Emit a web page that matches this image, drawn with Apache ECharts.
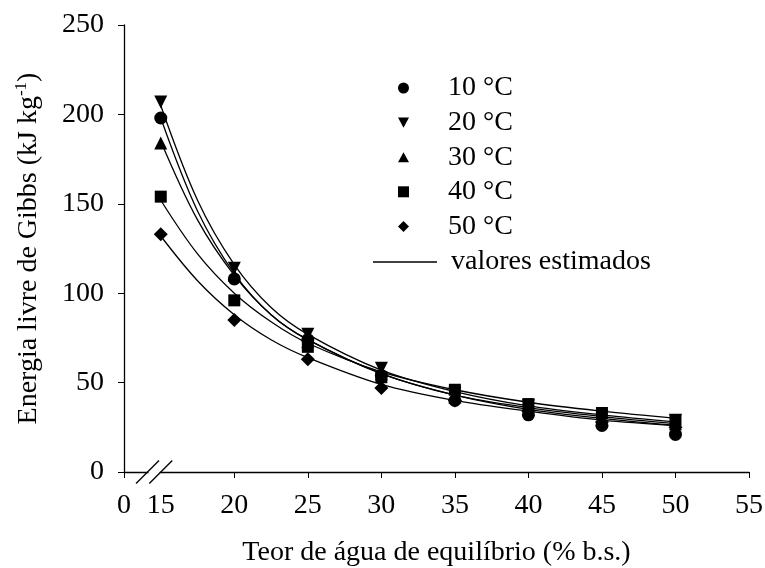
<!DOCTYPE html>
<html>
<head>
<meta charset="utf-8">
<script src="https://cdn.jsdelivr.net/npm/echarts@6/dist/echarts.min.js"></script>
<style>
  html, body { margin: 0; padding: 0; background: #fff; }
  #chart { width: 765px; height: 568px; }
</style>
</head>
<body>
<div id="chart"></div>
<script>
// moisture content (% b.s.)
const xs = [15, 20, 25, 30, 35, 40, 45, 50];
// observed values, kJ/kg
const obs10 = [198, 108, 74, 54, 40, 32, 26, 21];
const obs20 = [207, 114, 77, 58, 44, 37, 31, 29];
const obs30 = [184, 110, 73, 55, 42, 35, 29, 27];
const obs40 = [154, 96, 70, 53, 46, 38, 33, 29];
const obs50 = [133, 85, 63, 47, 40, 34, 28, 25];

// fitted curves
const fitX = [15, 17.5, 20, 22.5, 25, 30, 35, 40, 45, 50];
const fit10 = [198, 146, 111, 88, 74, 55, 43, 35, 30, 26];
const fit20 = [205, 152, 116, 92, 77, 57, 45, 37, 32, 28];
const fit30 = [185, 141, 110, 88, 74, 55, 43, 36, 31, 27];
const fit40 = [152, 122, 100, 84, 72, 56, 46, 39, 34, 30];
const fit50 = [132, 107, 88, 74, 64, 49, 40, 34, 29, 26];

const xLabelValues = [12.5, 15, 20, 25, 30, 35, 40, 45, 50, 55];
const xTickValues = [12.5, 20, 25, 30, 35, 40, 45, 50, 55];

const FONT = 'Liberation Serif';
const FS = 28;
const pair = (x, y) => x.map((v, i) => [v, y[i]]);

const chart = echarts.init(document.getElementById('chart'));

const obsSeries = [
  { name: '10 °C', data: obs10, symbol: 'circle', size: 13 },
  { name: '20 °C', data: obs20, symbol: 'path://M0,0 L12,0 L6,11 Z', size: 13 },
  { name: '30 °C', data: obs30, symbol: 'path://M6,0 L12,11 L0,11 Z', size: 13 },
  { name: '40 °C', data: obs40, symbol: 'rect', size: 12 },
  { name: '50 °C', data: obs50, symbol: 'diamond', size: 14 }
].map(s => ({
  type: 'scatter',
  name: s.name,
  data: pair(xs, s.data),
  symbol: s.symbol,
  symbolSize: s.size,
  itemStyle: { color: '#000', opacity: 1 },
  z: 3
}));

const fitSeries = [fit10, fit20, fit30, fit40, fit50].map((d, i) => ({
  type: 'line',
  name: i === 0 ? 'valores estimados' : 'fit' + i,
  data: pair(fitX, d),
  smooth: 0.35,
  symbol: 'none',
  lineStyle: { color: '#000', width: 1.3 },
  itemStyle: { color: '#000' },
  z: 2
}));

chart.setOption({
  animation: false,
  backgroundColor: '#fff',
  textStyle: { fontFamily: FONT, color: '#000' },
  grid: { left: 124, right: 16, top: 25, bottom: 96, containLabel: false, outerBoundsMode: 'none' },
  legend: [
    {
      data: ['10 °C', '20 °C', '30 °C', '40 °C', '50 °C'],
      orient: 'vertical',
      left: 393,
      top: 69,
      itemWidth: 11,
      itemHeight: 11,
      itemGap: 6.6,
      selectedMode: false,
      textStyle: { fontFamily: FONT, fontSize: FS, color: '#000', padding: [0, 0, 0, 34] }
    },
    {
      data: [{ name: 'valores estimados', icon: 'path://M0,0 L64,0 L64,1.4 L0,1.4 Z' }],
      left: 368,
      top: 243,
      itemWidth: 64,
      itemHeight: 1.4,
      selectedMode: false,
      textStyle: { fontFamily: FONT, fontSize: FS, color: '#000', padding: [0, 0, 0, 9] }
    }
  ],
  xAxis: {
    type: 'value',
    min: 12.5,
    max: 55,
    name: 'Teor de água de equilíbrio (% b.s.)',
    nameLocation: 'middle',
    nameGap: 67,
    nameTextStyle: { fontFamily: FONT, fontSize: FS, color: '#000' },
    axisLine: { lineStyle: { color: '#000', width: 1.3 } },
    axisTick: { show: true, length: 6, lineStyle: { color: '#000' }, customValues: xTickValues },
    axisLabel: {
      fontFamily: FONT, fontSize: FS, color: '#000', margin: 20,
      customValues: xLabelValues,
      formatter: v => (v === 12.5 ? '0' : String(v))
    },
    splitLine: { show: false }
  },
  yAxis: {
    type: 'value',
    min: 0,
    max: 250,
    interval: 50,
    name: 'Energia livre de Gibbs (kJ kg{sup|-1})',
    nameLocation: 'middle',
    nameGap: 80,
    nameTextStyle: {
      fontFamily: FONT, fontSize: FS, color: '#000',
      rich: { sup: { fontFamily: FONT, fontSize: 17, verticalAlign: 'top', padding: [0, 0, 14, 0] } }
    },
    axisLine: { show: true, lineStyle: { color: '#000', width: 1.3 } },
    axisTick: { show: true, length: 6, lineStyle: { color: '#000' } },
    axisLabel: { fontFamily: FONT, fontSize: FS, color: '#000', margin: 20 },
    splitLine: { show: false }
  },
  series: [...obsSeries, ...fitSeries]
});

// axis break marks (//) between 0 and 15
const c1 = chart.convertToPixel({ gridIndex: 0 }, [14.1, 0]);
const c2 = chart.convertToPixel({ gridIndex: 0 }, [15, 0]);
const h = 11.5;
chart.setOption({
  graphic: [
    {
      type: 'rect',
      shape: { x: c1[0] + 1, y: c1[1] - 2, width: c2[0] - c1[0] - 2, height: 4 },
      style: { fill: '#fff' },
      z: 10
    },
    {
      type: 'line',
      shape: { x1: c1[0] - h, y1: c1[1] + h, x2: c1[0] + h, y2: c1[1] - h },
      style: { stroke: '#000', lineWidth: 1.3 },
      z: 11
    },
    {
      type: 'line',
      shape: { x1: c2[0] - h, y1: c2[1] + h, x2: c2[0] + h, y2: c2[1] - h },
      style: { stroke: '#000', lineWidth: 1.3 },
      z: 11
    }
  ]
});
</script>
</body>
</html>
